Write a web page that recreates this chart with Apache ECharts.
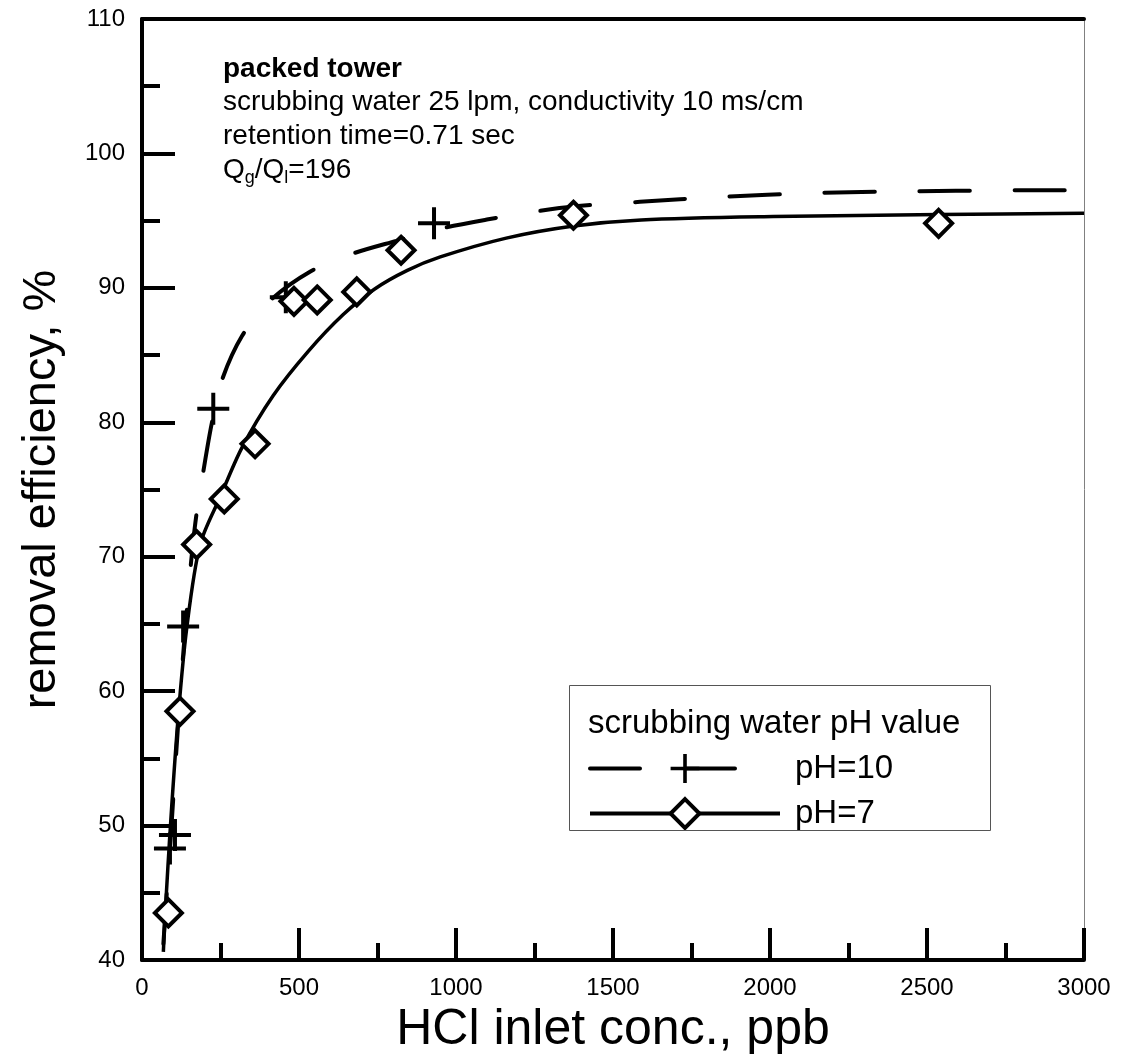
<!DOCTYPE html>
<html>
<head>
<meta charset="utf-8">
<script src="https://cdn.jsdelivr.net/npm/echarts@6/dist/echarts.min.js"></script>
<style>html,body{margin:0;padding:0;background:#fff}#c{width:1121px;height:1063px}</style>
</head>
<body>
<div id="c"></div>
<script>
// ---- data ----
const pH10X = [89, 105, 131, 227, 458, 930];
const pH10Y = [48.3, 49.3, 64.8, 81.0, 89.3, 94.8];
const pH7X = [84, 121, 174, 262, 360, 484, 558, 684, 825, 1374, 2537];
const pH7Y = [43.5, 58.5, 70.9, 74.3, 78.4, 89.0, 89.1, 89.7, 92.8, 95.4, 94.8];
// fitted curves as drawn in the reference (read points)
const fit10X = [68, 79, 87, 100, 115, 130, 142, 155, 172, 195, 222, 254, 318, 408, 535, 665, 810, 949, 1103, 1246, 1373, 1586, 1841, 2143, 2441, 2742, 3000];
const fit10Y = [41.2, 45.0, 47.5, 52.2, 57.5, 62.4, 65.8, 69.3, 72.9, 76.3, 79.9, 83.1, 86.4, 89.05, 91.2, 92.5, 93.5, 94.4, 95.1, 95.65, 96.05, 96.4, 96.76, 97.05, 97.18, 97.25, 97.27];
const fit7X = [68, 74, 92, 116, 142, 185, 250, 318, 418, 530, 640, 740, 845, 950, 1160, 1375, 1590, 2010, 2540, 3000];
const fit7Y = [40.6, 43.5, 50.5, 58.3, 64.6, 70.9, 74.5, 78.1, 82.0, 85.3, 88.0, 89.9, 91.3, 92.3, 93.7, 94.6, 95.05, 95.3, 95.45, 95.55];
const seriesNames = ['pH=10', 'pH=7'];
const legendTitle = 'scrubbing water pH value';
const noteLines = ['packed tower', 'scrubbing water 25 lpm, conductivity 10 ms/cm', 'retention time=0.71 sec'];
const xName = 'HCl inlet conc., ppb';
const yName = 'removal efficiency, %';

const zip = (a, b) => a.map((v, i) => [v, b[i]]);
const FONT = '"Liberation Sans", Arial, Helvetica, sans-serif';
const crossPath = 'path://M14,0H18V14H32V18H18V32H14V18H0V14H14Z';

const chart = echarts.init(document.getElementById('c'));
chart.setOption({
  animation: false,
  backgroundColor: '#fff',
  textStyle: { fontFamily: FONT },
  grid: { left: 142, right: 37, top: 19, bottom: 103 },
  xAxis: [{
    type: 'value', min: 0, max: 3000, interval: 500,
    name: xName, nameLocation: 'middle', nameGap: 45,
    nameTextStyle: { fontSize: 50, color: '#000', fontFamily: FONT },
    axisLine: { onZero: false, lineStyle: { color: '#000', width: 4 } },
    axisTick: { inside: true, length: 32, lineStyle: { color: '#000', width: 4 } },
    minorTick: { show: true, splitNumber: 2, length: 17, lineStyle: { color: '#000', width: 4 } },
    axisLabel: { fontSize: 24, color: '#000', margin: 16, fontFamily: FONT, formatter: v => String(v) },
    splitLine: { show: false }
  }, {
    type: 'value', min: 0, max: 3000, position: 'top',
    axisLine: { show: true, onZero: false, lineStyle: { color: '#000', width: 4 } },
    axisTick: { show: false }, axisLabel: { show: false }, splitLine: { show: false }
  }],
  yAxis: [{
    type: 'value', min: 40, max: 110, interval: 10,
    name: yName, nameLocation: 'middle', nameGap: 76,
    nameTextStyle: { fontSize: 47, color: '#000', fontFamily: FONT },
    axisLine: { show: true, onZero: false, lineStyle: { color: '#000', width: 4 } },
    axisTick: { inside: true, length: 33, lineStyle: { color: '#000', width: 4 } },
    minorTick: { show: true, splitNumber: 2, length: 18, lineStyle: { color: '#000', width: 4 } },
    axisLabel: { fontSize: 24, color: '#000', margin: 17, fontFamily: FONT },
    splitLine: { show: false }
  }, {
    type: 'value', min: 40, max: 110, position: 'right',
    axisLine: { show: true, onZero: false, lineStyle: { color: '#808080', width: 1 } },
    axisTick: { show: false }, axisLabel: { show: false }, splitLine: { show: false }
  }],
  legend: {
    data: [{ name: seriesNames[0] }, { name: seriesNames[1], itemStyle: { borderWidth: 4, borderColor: '#000', color: '#fff' } }],
    orient: 'vertical', left: 588, top: 752, padding: 0,
    itemWidth: 190, itemHeight: 36, itemGap: 12,
    lineStyle: { width: 4 },
    textStyle: { fontSize: 33, color: '#000', fontFamily: FONT, padding: [0, 0, 0, 10] },
    selectedMode: false
  },
  graphic: [
    { type: 'rect', left: 569, top: 685, z: 10,
      shape: { width: 421, height: 145 },
      style: { fill: 'rgba(255,255,255,0)', stroke: '#555', lineWidth: 1 } },
    { type: 'text', left: 588, top: 707, z: 11,
      style: { text: legendTitle, font: '33px ' + FONT, fill: '#000' } },
    { type: 'text', left: 223, top: 55, z: 11,
      style: {
        text: '{b|' + noteLines[0] + '}\n{n|' + noteLines[1] + '}\n{n|' + noteLines[2] + '}\n{n|Q}{s|g}{n|/Q}{s|l}{n|=196}',
        rich: {
          b: { font: 'bold 28px ' + FONT, fill: '#000', lineHeight: 33 },
          n: { font: '28px ' + FONT, fill: '#000', lineHeight: 34 },
          s: { font: '18px ' + FONT, fill: '#000', lineHeight: 34, padding: [16, 0, 0, 0] }
        }
      } }
  ],
  series: [
    { name: 'pH=10', type: 'line', data: zip(fit10X, fit10Y), smooth: 0.3,
      showSymbol: false, symbol: crossPath, symbolKeepAspect: true,
      itemStyle: { color: '#000' },
      lineStyle: { color: '#000', width: 4, type: [50, 45], cap: 'round' }, z: 2, silent: true },
    { name: 'pH=10', type: 'scatter', data: zip(pH10X, pH10Y), symbol: crossPath, symbolSize: 32,
      symbolKeepAspect: true, itemStyle: { color: '#000', opacity: 1 }, z: 4 },
    { name: 'pH=7', type: 'line', data: zip(fit7X, fit7Y), smooth: 0.3,
      showSymbol: false, symbol: 'diamond',
      itemStyle: { color: '#fff', borderColor: '#000', borderWidth: 4 },
      lineStyle: { color: '#000', width: 3.5 }, z: 2, silent: true },
    { name: 'pH=7', type: 'scatter', data: zip(pH7X, pH7Y), symbol: 'diamond', symbolSize: 27,
      itemStyle: { color: '#fff', borderColor: '#000', borderWidth: 4, opacity: 1 }, z: 5 }
  ]
});
</script>
</body>
</html>
